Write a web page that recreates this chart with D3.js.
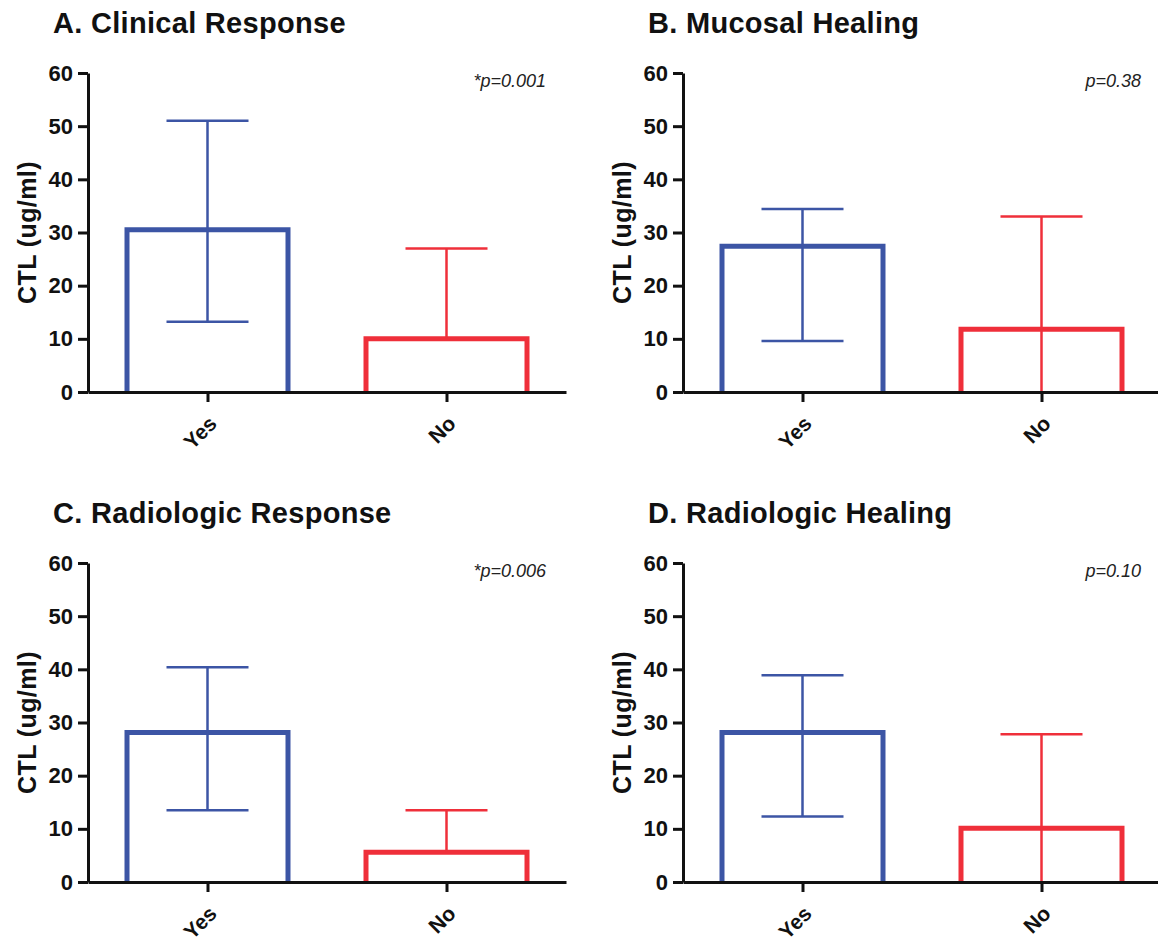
<!DOCTYPE html>
<html>
<head>
<meta charset="utf-8">
<script src="https://cdn.jsdelivr.net/npm/d3@7"></script>
<style>
  body { margin: 0; background: #fff; }
  svg { display: block; font-family: "Liberation Sans", Arial, sans-serif; }
</style>
</head>
<body>
<svg id="chart" width="1158" height="945"></svg>
<script>
// values (CTL, ug/ml)
const categories = ["Yes", "No"];
const panelTitles = ["A. Clinical Response", "B. Mucosal Healing", "C. Radiologic Response", "D. Radiologic Healing"];
const pLabels = ["*p=0.001", "p=0.38", "*p=0.006", "p=0.10"];
const means = [[30.5, 10], [27.4, 11.8], [28.1, 5.6], [28.1, 10.1]];
const upper = [[51, 27], [34.4, 33], [40.4, 13.5], [38.9, 27.8]];
const lower = [[13.2, null], [9.6, 0], [13.5, null], [12.3, 0]];
const yTicks = [0, 10, 20, 30, 40, 50, 60];
const colors = ["#3c55a5", "#ef2f3a"];

const svg = d3.select("#chart");
svg.append("rect").attr("width", 1158).attr("height", 945).attr("fill", "#fff");

// plot box of panel A; the others are shifted copies
const plotW = 478, plotH = 319;
const offsets = [[88, 73], [683, 73], [88, 563], [683, 563]];

const x = d3.scalePoint().domain(categories).range([0, plotW]).padding(0.5);
const y = d3.scaleLinear().domain([0, 60]).range([plotH, 0]);
const barW = 161, capW = 82;

panelTitles.forEach((title, p) => {
	const g = svg.append("g")
		.attr("transform", `translate(${offsets[p][0]},${offsets[p][1]})`);

	g.append("text")
		.attr("x", -35)
		.attr("y", -40)
		.attr("font-size", 29)
		.attr("font-weight", "bold")
		.attr("letter-spacing", 0.3)
		.attr("fill", "#111")
		.text(title);

	g.append("text")
		.attr("x", plotW - 20)
		.attr("y", 14)
		.attr("text-anchor", "end")
		.attr("font-size", 18)
		.attr("font-style", "italic")
		.attr("font-family", "Liberation Sans, Arial, sans-serif")
		.attr("fill", "#222")
		.text(pLabels[p]);

	g.append("text")
		.attr("transform", `translate(-61,${plotH / 2}) rotate(-90)`)
		.attr("text-anchor", "middle")
		.attr("dy", "0.35em")
		.attr("font-size", 25)
		.attr("font-weight", "bold")
		.attr("letter-spacing", 0.4)
		.attr("fill", "#111")
		.text("CTL (ug/ml)");

	// bars: open outline, no bottom edge
	categories.forEach((c, i) => {
		const cx = x(c);
		const x0 = cx - barW / 2, x1 = cx + barW / 2;
		g.append("path")
			.attr("d", `M${x0},${y(0)}V${y(means[p][i])}H${x1}V${y(0)}`)
			.attr("fill", "none")
			.attr("stroke", colors[i])
			.attr("stroke-width", 5);

		const lo = lower[p][i] == null ? means[p][i] : lower[p][i];
		g.append("line")
			.attr("x1", cx).attr("x2", cx)
			.attr("y1", y(lo)).attr("y2", y(upper[p][i]))
			.attr("stroke", colors[i])
			.attr("stroke-width", 2.5);
		g.append("line")
			.attr("x1", cx - capW / 2).attr("x2", cx + capW / 2)
			.attr("y1", y(upper[p][i])).attr("y2", y(upper[p][i]))
			.attr("stroke", colors[i])
			.attr("stroke-width", 2.5);
		if (lower[p][i] > 0) {
			g.append("line")
				.attr("x1", cx - capW / 2).attr("x2", cx + capW / 2)
				.attr("y1", y(lower[p][i])).attr("y2", y(lower[p][i]))
				.attr("stroke", colors[i])
				.attr("stroke-width", 2.5);
		}
	});

	const yAxis = g.append("g")
		.call(d3.axisLeft(y).tickValues(yTicks).tickSize(10).tickPadding(5).tickSizeOuter(0));
	const xAxis = g.append("g")
		.attr("transform", `translate(0,${plotH})`)
		.call(d3.axisBottom(x).tickSize(10).tickSizeOuter(0));

	[yAxis, xAxis].forEach(a => {
		a.select(".domain").attr("stroke", "#111").attr("stroke-width", 3);
		a.selectAll(".tick line").attr("stroke", "#111").attr("stroke-width", 3);
	});
	yAxis.selectAll(".tick text")
		.attr("font-size", 22)
		.attr("font-weight", "bold")
		.attr("font-family", "Liberation Sans, Arial, sans-serif")
		.attr("fill", "#111");
	xAxis.selectAll(".tick text")
		.attr("font-size", 21)
		.attr("font-weight", "bold")
		.attr("font-family", "Liberation Sans, Arial, sans-serif")
		.attr("fill", "#111")
		.attr("text-anchor", "end")
		.attr("dy", null)
		.attr("y", null)
		.attr("transform", "translate(10,33) rotate(-45)");
});
</script>
</body>
</html>
